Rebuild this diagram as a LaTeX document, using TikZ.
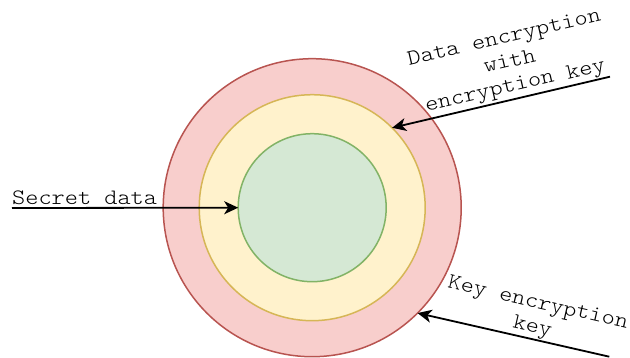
\documentclass[tikz,border=0pt]{standalone}
\usepackage{fontspec}
\newfontfamily\diagfont{Latin Modern Mono Light}[FakeStretch=1.14]
\usetikzlibrary{arrows.meta}
\definecolor{redfill}{HTML}{F8CECC}
\definecolor{redline}{HTML}{B85450}
\definecolor{yelfill}{HTML}{FFF2CC}
\definecolor{yelline}{HTML}{D6B656}
\definecolor{grnfill}{HTML}{D5E8D4}
\definecolor{grnline}{HTML}{82B366}
\tikzset{
  ring/.style={circle, inner sep=0pt, outer sep=0pt, line width=1.5pt},
  lbl/.style={font=\diagfont\fontsize{22}{24.5}\selectfont, inner sep=0pt, align=center, text=black},
  conn/.style={line width=1.8pt, -{Stealth[length=14pt,width=13pt,inset=4pt]}}
}
\begin{document}
\begin{tikzpicture}[x=1pt,y=-1pt]
\useasboundingbox (0,0) rectangle (630,358);
\node[ring, draw=redline, fill=redfill, minimum size=298pt] (outer) at (312.2,207.7) {};
\node[ring, draw=yelline, fill=yelfill, minimum size=226pt] (middle) at (312.2,207.7) {};
\node[ring, draw=grnline, fill=grnfill, minimum size=148pt] (inner) at (312.2,207.7) {};
\coordinate (s1) at (12,208);
\coordinate (s2) at (610,76.7);
\coordinate (s3) at (609.3,356.7);
\draw[conn] (s1) -- (inner.west);
\draw[conn] (s2) -- (middle.45);
\draw[conn] (s3) -- (outer.-45);
\node[lbl, anchor=base west] (tsecret) at (12,204.5) {Secret data};
\node[lbl, rotate=13] (tdata) at (510,63) {Data encryption\\with\\encryption key};
\node[lbl, rotate=-13] (tkey) at (535,316) {Key encryption\\key};
\end{tikzpicture}
\end{document}
